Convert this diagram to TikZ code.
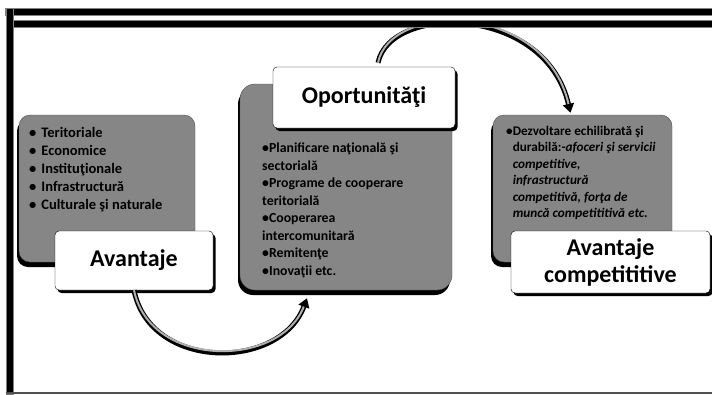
\documentclass[tikz,border=0pt]{standalone}
\usepackage{fontspec}
\setmainfont{Carlito}
\usetikzlibrary{arrows.meta,positioning,shadows}
\definecolor{boxgray}{RGB}{134,134,134}
\definecolor{edgegray}{RGB}{80,80,80}
\definecolor{glowgray}{RGB}{175,175,175}

\begin{document}
\begin{tikzpicture}[x=1pt,y=-1pt,panel/.style={draw=edgegray,fill=boxgray,rounded corners=11pt,drop shadow={fill=black,opacity=1,shadow xshift=-2pt,shadow yshift=-5pt}},tag/.style={draw=black,fill=white,rounded corners=4pt,align=center,font=\bfseries\fontsize{24}{27}\selectfont,drop shadow={fill=black,opacity=1,shadow xshift=2.5pt,shadow yshift=-3pt}},items/.style={anchor=north west,align=left,inner sep=0pt,font=\bfseries\fontsize{14.5}{18}\selectfont},arc/.style={line width=5pt,-{Triangle[length=9pt,width=11pt]}},glint/.style={line width=2pt,glowgray,shorten >=9pt,yshift=2.5pt}]
\useasboundingbox (0,0) rectangle (712,394);
% panels
\node[panel,minimum width=176pt,minimum height=147pt] (advbox) at (107,188.5) {};
\node[panel,minimum width=212pt,minimum height=206pt,rounded corners=15pt] (oppbox) at (346,187) {};
\node[panel,minimum width=179pt,minimum height=147pt] (compbox) at (582.5,188.5) {};
% lists
\node[items] (advlist) at (29,127) {\textbullet\hspace{5pt}Teritoriale\\ \textbullet\hspace{5pt}Economice\\ \textbullet\hspace{5pt}Instituţionale\\ \textbullet\hspace{5pt}Infrastructură\\ \textbullet\hspace{5pt}Culturale şi naturale};
\node[items,font=\bfseries\fontsize{13.8}{17.5}\selectfont] (opplist) at (262,143) {\textbullet Planificare naţională şi\\ sectorială\\ \textbullet Programe de cooperare\\ teritorială\\ \textbullet Cooperarea\\ intercomunitară\\ \textbullet Remitenţe\\ \textbullet Inovaţii etc.};
\node[items,font=\bfseries\fontsize{13.2}{16.5}\selectfont] (complist) at (506,126) {\textbullet Dezvoltare echilibrată şi\\ \phantom{\textbullet}durabilă:-\textit{afoceri şi servicii}\\ \phantom{\textbullet}\textit{competitive,}\\ \phantom{\textbullet}\textit{infrastructură}\\ \phantom{\textbullet}\textit{competitivă, forţa de}\\ \phantom{\textbullet}\textit{muncă competititivă etc.}};
% tags
\node[tag,minimum width=158pt,minimum height=59pt] (advtag) at (134,260.5) {Avantaje};
\node[tag,minimum width=182pt,minimum height=61pt] (opptag) at (364,97.5) {Oportunităţi};
\node[tag,minimum width=199pt,minimum height=62pt] (comptag) at (610.5,262) {Avantaje\\ competititive};
% arrows
\draw[arc] (advtag.south) .. controls (150,371) and (280,371) .. ([xshift=-39pt,yshift=-8pt]oppbox.south);
\draw[glint] (advtag.south) .. controls (150,371) and (280,371) .. ([xshift=-39pt,yshift=-8pt]oppbox.south);
\draw[arc] ([xshift=14pt,yshift=4pt]opptag.north) .. controls (390,4) and (545,4) .. ([xshift=-12pt,yshift=2pt]compbox.north);
\draw[glint] ([xshift=14pt,yshift=4pt]opptag.north) .. controls (390,4) and (545,4) .. ([xshift=-12pt,yshift=2pt]compbox.north);
% frame
\filldraw[draw=gray,fill=black,line width=.8pt] (5,8) rectangle (712,15);
\filldraw[draw=gray,fill=black,line width=.8pt] (11,20) rectangle (712,27);
\filldraw[draw=gray,fill=black,line width=.8pt] (6,8) rectangle (13,394);
\draw[edgegray,line width=1.5pt] (6,393) -- (712,393);
\end{tikzpicture}
\end{document}
